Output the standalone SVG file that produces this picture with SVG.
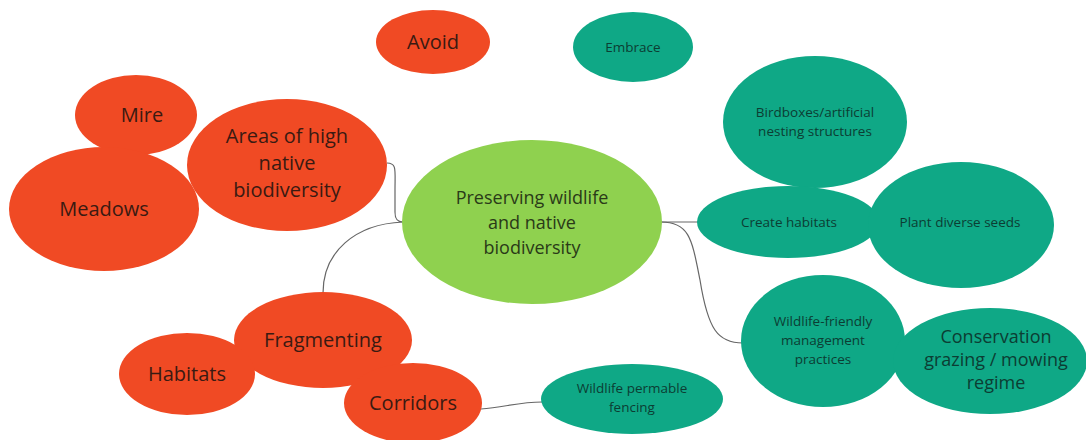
<svg xmlns="http://www.w3.org/2000/svg" width="1086" height="440" viewBox="0 0 1086 440">
<style>
.red{fill:#F04A24}
.teal{fill:#0FA886}
.green{fill:#8FD14F}
text{font-family:"Open Sans","Noto Sans",sans-serif;text-anchor:middle}
.rt{fill:#3a1a12;font-size:20px}
.tt{fill:#0c3d33;font-size:13.5px}
.tl{fill:#0c3d33;font-size:18px}
.gt{fill:#2a3a18;font-size:18px}
.conn{fill:none;stroke:#666;stroke-width:1.2}
</style>
<rect width="1086" height="440" fill="#fff"/>
<g id="connectors">
<path class="conn" d="M387,163 C397,163 395,170 395,190 L395,212 C395,220 398,222 403,222"/>
<path class="conn" d="M403,222 C355,224 323,252 323,293"/>
<path class="conn" d="M661,222 L698,222"/>
<path class="conn" d="M661,222 C690,222 692,240 700,280 C708,330 718,343 743,343"/>
<path class="conn" d="M481,409 C505,407 520,402 542,402"/>
</g>
<g id="avoid"><ellipse class="red" cx="433" cy="42" rx="57" ry="32"/><text class="rt" x="433" y="49">Avoid</text></g>
<g id="embrace"><ellipse class="teal" cx="633" cy="47" rx="60" ry="35"/><text class="tt" x="633" y="52">Embrace</text></g>
<g id="mire"><ellipse class="red" cx="136" cy="115" rx="61" ry="40"/><text class="rt" x="142" y="122">Mire</text></g>
<g id="meadows"><ellipse class="red" cx="104" cy="209" rx="95" ry="62"/><text class="rt" x="104" y="216">Meadows</text></g>
<g id="areas"><ellipse class="red" cx="287" cy="165" rx="100" ry="66"/><text class="rt" x="287" y="143">Areas of high</text><text class="rt" x="287" y="170">native</text><text class="rt" x="287" y="197">biodiversity</text></g>
<g id="central"><ellipse class="green" cx="532" cy="222" rx="130" ry="82"/><text class="gt" x="532" y="204">Preserving wildlife</text><text class="gt" x="532" y="229">and native</text><text class="gt" x="532" y="254">biodiversity</text></g>
<g id="birdboxes"><ellipse class="teal" cx="815" cy="122" rx="92" ry="66"/><text class="tt" x="815" y="117">Birdboxes/artificial</text><text class="tt" x="815" y="136">nesting structures</text></g>
<g id="create-habitats"><ellipse class="teal" cx="788" cy="222" rx="91" ry="36"/><text class="tt" x="789" y="227">Create habitats</text></g>
<g id="plant-seeds"><ellipse class="teal" cx="961" cy="225" rx="93" ry="63"/><text class="tt" x="960" y="227">Plant diverse seeds</text></g>
<g id="wildlife-friendly"><ellipse class="teal" cx="823" cy="341" rx="82" ry="66"/><text class="tt" x="823" y="326">Wildlife-friendly</text><text class="tt" x="823" y="345">management</text><text class="tt" x="823" y="364">practices</text></g>
<g id="conservation"><ellipse class="teal" cx="990" cy="361" rx="97" ry="53"/><text class="tl" x="996" y="343">Conservation</text><text class="tl" x="996" y="366">grazing / mowing</text><text class="tl" x="996" y="389">regime</text></g>
<g id="fragmenting"><ellipse class="red" cx="323" cy="340" rx="89" ry="48"/><text class="rt" x="323" y="347">Fragmenting</text></g>
<g id="habitats"><ellipse class="red" cx="187" cy="374" rx="68" ry="41"/><text class="rt" x="187" y="381">Habitats</text></g>
<g id="corridors"><ellipse class="red" cx="413" cy="403" rx="69" ry="40"/><text class="rt" x="413" y="410">Corridors</text></g>
<g id="fencing"><ellipse class="teal" cx="632" cy="399" rx="91" ry="35"/><text class="tt" x="632" y="393">Wildlife permable</text><text class="tt" x="632" y="412">fencing</text></g>
</svg>
